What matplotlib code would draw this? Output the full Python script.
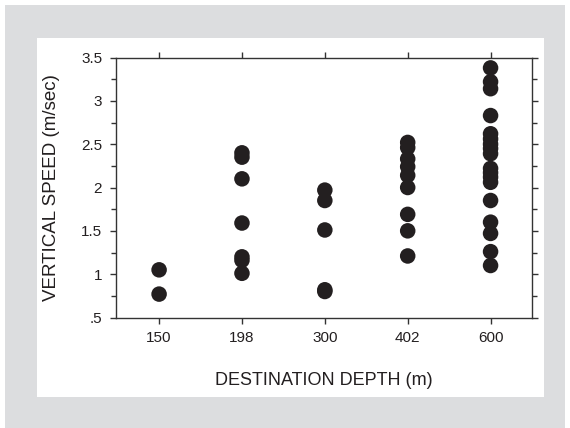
import matplotlib
matplotlib.use("Agg")
import matplotlib.pyplot as plt
from matplotlib.patches import Rectangle
from matplotlib.ticker import MultipleLocator, FixedLocator

# destination depths (categorical) and measured vertical speeds
depths = ["150", "198", "300", "402", "600"]
speed_150 = [1.05, 0.77]
speed_198 = [2.40, 2.35, 2.10, 1.59, 1.20, 1.16, 1.01]
speed_300 = [1.97, 1.85, 1.51, 0.82, 0.80]
speed_402 = [2.52, 2.46, 2.33, 2.24, 2.14, 2.00, 1.69, 1.50, 1.21]
speed_600 = [3.38, 3.22, 3.14, 2.83, 2.62, 2.56, 2.50, 2.45, 2.39,
             2.22, 2.17, 2.12, 2.06, 1.85, 1.60, 1.47, 1.26, 1.10]
speeds = [speed_150, speed_198, speed_300, speed_402, speed_600]

ytick_vals = [0.5, 1, 1.5, 2, 2.5, 3, 3.5]
ytick_labels = [".5", "1", "1.5", "2", "2.5", "3", "3.5"]

plt.rcParams['font.family'] = ['Liberation Sans', 'DejaVu Sans']

W, H = 570, 428
fig = plt.figure(figsize=(W / 100, H / 100), dpi=100)
fig.patch.set_facecolor("white")

# grey frame and white panel behind the chart
fig.patches.append(Rectangle((5 / W, 0), 560 / W, (H - 5) / H,
                             transform=fig.transFigure, facecolor="#dcdddf",
                             edgecolor="none", zorder=-2))
fig.patches.append(Rectangle((37 / W, 1 - 397 / H), 507 / W, 359 / H,
                             transform=fig.transFigure, facecolor="white",
                             edgecolor="none", zorder=-1))

ax = fig.add_axes([116 / W, 1 - 317.5 / H, 416 / W, 260 / H])
ax.set_facecolor("white")

for i, vals in enumerate(speeds):
    ax.scatter([i] * len(vals), vals, s=125, color="#231f20",
               edgecolors="none", zorder=3)

ax.set_xlim(-0.52, 4.5)
ax.set_ylim(0.5, 3.5)

ax.xaxis.set_major_locator(FixedLocator(range(len(depths))))
ax.set_xticklabels(depths)
ax.set_yticks(ytick_vals)
ax.set_yticklabels(ytick_labels)
ax.yaxis.set_minor_locator(MultipleLocator(0.25))

ax.tick_params(axis="both", which="both", direction="out", color="#333333",
               width=1.0, top=True, right=True, labelsize=11,
               labelcolor="#231f20")
ax.tick_params(axis="both", which="major", length=4)
ax.tick_params(axis="y", which="minor", length=3.5)
ax.tick_params(axis="x", pad=6)
ax.tick_params(axis="y", pad=6)

for sp in ax.spines.values():
    sp.set_color("#333333")
    sp.set_linewidth(1.0)

ax.set_xlabel("DESTINATION DEPTH (m)", fontsize=13, color="#231f20")
ax.set_ylabel("VERTICAL SPEED (m/sec)", fontsize=13.5, color="#231f20")
ax.xaxis.set_label_coords(0.5, -0.21)
ax.yaxis.set_label_coords(-0.135, 0.5)

fig.savefig("out.png", dpi=100, facecolor=fig.get_facecolor())
